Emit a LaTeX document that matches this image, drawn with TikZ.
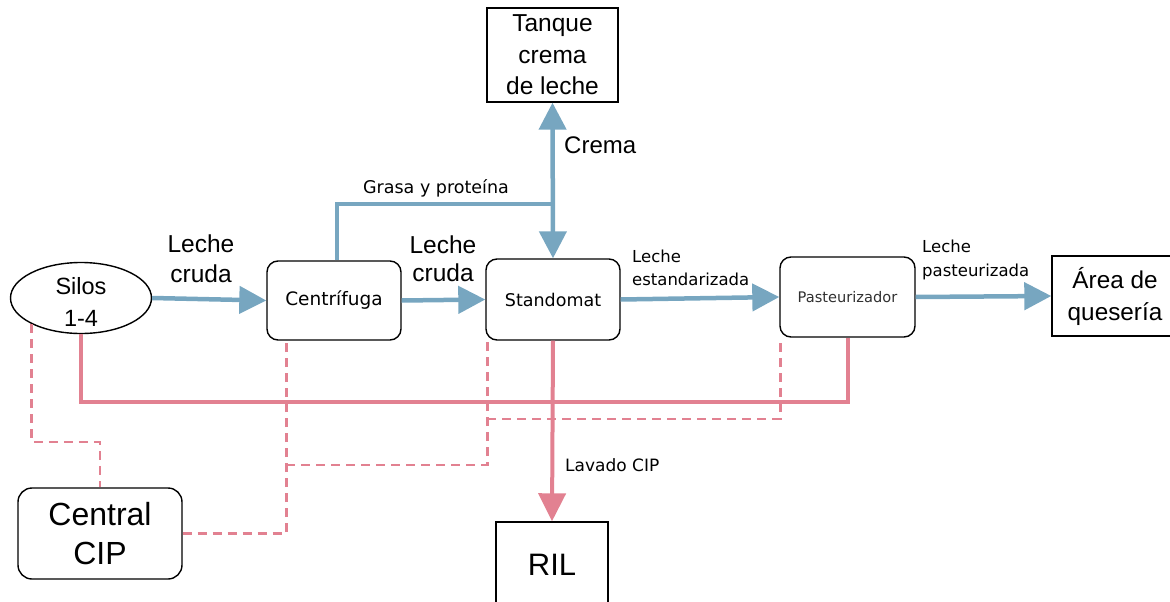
\documentclass[tikz,border=0pt]{standalone}
\usepackage{fontspec}
\setmainfont{Liberation Sans}
\newfontfamily\smallfont{DejaVu Sans}
\usetikzlibrary{arrows.meta,calc,shapes.geometric}
\definecolor{flowblue}{HTML}{77A6C0}
\definecolor{cippink}{HTML}{E28191}
\definecolor{softgray}{HTML}{303030}
\newcommand\sizeto[2]{\fontsize{#1}{#2}\selectfont}

\begin{document}
\begin{tikzpicture}[x=1pt,y=-1pt,
  unitbox/.style={draw=black,line width=1.4pt,rounded corners=11pt,inner sep=0pt,align=center},
  plainbox/.style={draw=black,line width=1.4pt,inner sep=0pt,align=center},
  lbl/.style={inner sep=0pt,align=center},
  bluehead/.style={-{Triangle[length=27pt,width=27pt]}},
  flow/.style={draw=flowblue,line width=4.5pt},
  cipline/.style={draw=cippink,line width=4pt},
  cipdash/.style={draw=cippink,line width=2.6pt,dash pattern=on 9pt off 6pt},
]
\clip (0,0) rectangle (1170,602);

% process units
\node[ellipse,draw=black,line width=1.4pt,minimum width=141pt,minimum height=71pt,inner sep=0pt] (silos) at (81,298) {};
\node[lbl,font=\sizeto{23.5}{32}] (silostext) at (81,302) {Silos\\1-4};
\node[unitbox,minimum width=134pt,minimum height=79pt,font=\smallfont\sizeto{18.5}{22}] (centri) at (334,300.5) {Centrífuga};
\node[unitbox,minimum width=134pt,minimum height=81pt,font=\smallfont\sizeto{17.5}{22}] (stando) at (553,299.5) {Standomat};
\node[unitbox,minimum width=135pt,minimum height=80pt,text=softgray,font=\smallfont\sizeto{14.6}{18}] (paste) at (847.5,297) {Pasteurizador};
\node[plainbox,minimum width=126pt,minimum height=80pt,font=\sizeto{24.3}{32}] (area) at (1115,296) {Área de\\quesería};
\node[plainbox,minimum width=131pt,minimum height=94pt,font=\sizeto{24.5}{31.5}] (tanque) at (552.5,55) {Tanque\\crema\\de leche};
\node[unitbox,rounded corners=14pt,minimum width=164pt,minimum height=91pt,font=\sizeto{32}{39}] (cip) at (100,533.5) {Central\\CIP};
\node[plainbox,minimum width=112pt,minimum height=86pt,font=\sizeto{31}{36}] (ril) at (552,565) {RIL};

% product flow
\draw[flow,bluehead] (silos.east) -- (centri.west);
\draw[flow,bluehead] (centri.east) -- (stando.west);
\draw[flow,bluehead] (stando.east) -- (paste.west);
\draw[flow,bluehead] (paste.east) -- (area.west);
\draw[flow,{Triangle[length=27pt,width=27pt]}-{Triangle[length=27pt,width=27pt]}] (tanque.south) -- (stando.north);
\coordinate (fatjoin) at ($(stando.north |- 0,204)$);
\draw[flow] ($(centri.north)+(3,0)$) |- (fatjoin);

% flow labels
\node[lbl,font=\sizeto{24.5}{30}] (lc1) at (201,259) {Leche\\cruda};
\node[lbl,font=\sizeto{24.5}{28}] (lc2) at (443,259) {Leche\\cruda};
\node[lbl,anchor=west,font=\sizeto{24}{28}] (crema) at (564,145) {Crema};
\node[lbl,font=\smallfont\sizeto{17.5}{22}] (grasa) at (436,188) {Grasa y proteína};
\node[lbl,anchor=west,align=left,font=\smallfont\sizeto{16.5}{23}] (lest) at (632,268) {Leche\\estandarizada};
\node[lbl,anchor=west,align=left,font=\smallfont\sizeto{16.5}{24}] (lpas) at (922,260) {Leche\\pasteurizada};
\node[lbl,anchor=west,font=\smallfont\sizeto{17}{22}] (lav) at (565,465) {Lavado CIP};

% CIP return (solid) lines
\coordinate (bus) at (0,402);
\draw[cipline] (silos.south) |- (bus -| paste.south) -- (paste.south);
\draw[cipline] ($(centri.south)+(3,0)$) -- ($(centri.south)+(3,0)$ |- bus);
\draw[cipline,-{Triangle[length=28pt,width=27pt]}] (stando.south) -- (ril.north);

% CIP supply (dashed) lines
\coordinate (cdrop) at ($(centri.south west)+(20,0)$);
\coordinate (sdrop) at ($(stando.south west)+(2,0)$);
\coordinate (pdrop) at ($(paste.south west)+(1,0)$);
\draw[cipdash] (silos.208) |- (cip.north |- 0,442) -- (cip.north);
\draw[cipdash] (cip.east) -| (cdrop);
\draw[cipdash] (cdrop |- 0,465) -| (sdrop);
\draw[cipdash] (sdrop |- 0,419) -| (pdrop);
\end{tikzpicture}
\end{document}
